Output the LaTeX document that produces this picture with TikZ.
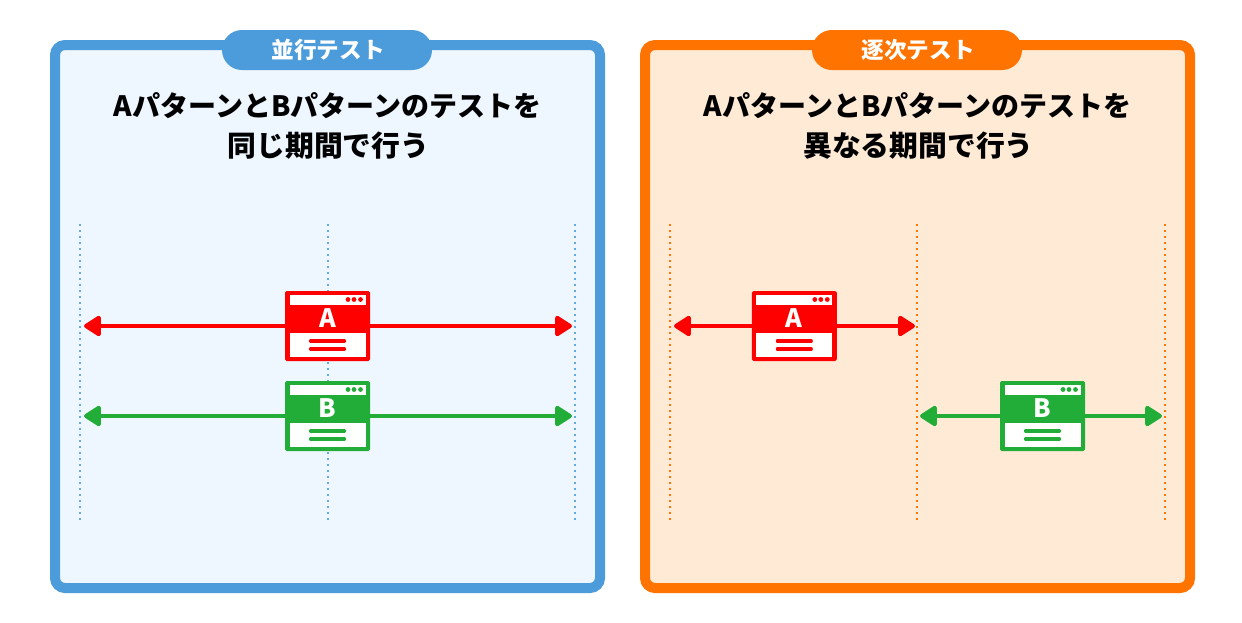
\documentclass[tikz,border=0pt]{standalone}
\usepackage{fontspec}
\setmainfont{Noto Sans CJK JP}
\usetikzlibrary{arrows.meta}
\definecolor{blueB}{HTML}{4C9CDB}
\definecolor{blueD}{HTML}{62AAE2}
\definecolor{blueF}{HTML}{EEF6FF}
\definecolor{orangeB}{HTML}{FF7300}
\definecolor{orangeF}{HTML}{FFEAD6}
\definecolor{redC}{HTML}{FF0000}
\definecolor{greenC}{HTML}{22AC38}
\newcommand{\bigline}{\fontsize{21.6}{30}\selectfont}
\tikzset{
  panel/.style={line width=7.5pt,rounded corners=7.5pt},
  tabbox/.style={minimum width=157.5pt,minimum height=30pt,rounded corners=15pt,inner sep=0pt,text=white,font=\fontsize{17}{20}\selectfont\bfseries},
  titletext/.style={align=center,inner sep=0pt,text=black,font=\fontsize{21}{30}\selectfont\bfseries},
  guide/.style={line width=1.5pt,dash pattern=on 1.5pt off 3pt},
  winbox/.style={minimum width=62.75pt,minimum height=51.5pt,inner sep=0pt,rounded corners=1pt,line width=1pt},
  halfline/.style={line width=3pt,-{Triangle[round,length=14pt,width=17pt,line width=3pt]}}
}
\newcommand{\winicon}[5]{%
  \begin{scope}[shift={(#2,#3)}]
    \node[winbox,fill=#4,draw=#4] (#1) at (0,0) {};
    \node[text=white,inner sep=0pt,font=\fontsize{19}{20}\selectfont\bfseries] (#1t) at (0,-7.5) {#5};
    \fill[white] (-38,-31) rectangle (38,-21.5);
    \fill[#4] (20.5,-26.5) circle (2.4) (26.5,-26.5) circle (2.4) (33,-26.5) circle (2.4);
    \fill[white] (-38,7) rectangle (38,30.5);
    \draw[#4,line width=2.3pt,line cap=round] (-17,15) -- (17,15) (-17,23) -- (17,23);
  \end{scope}}
\begin{document}
\begin{tikzpicture}[x=0.75pt,y=-0.75pt]
\useasboundingbox (0,0) rectangle (1242,622);
\fill[white] (0,0) rectangle (1242,622);
% left panel
\draw[panel,draw=blueB,fill=blueF] (55,45) rectangle (600,588);
\node[tabbox,fill=blueB] (tabL) at (327,50) {\hspace{1.5pt}並行テスト};
\node[titletext] (titleL) at (327.5,126) {Aパターンと\hspace{0pt}Bパターンのテストを\\{\bigline\hspace{1.5pt}同じ期間で行う}};
\coordinate (l1t) at (80,224); \coordinate (l1b) at (80,520);
\coordinate (l2t) at (328,224); \coordinate (l2b) at (328,520);
\coordinate (l3t) at (575,224); \coordinate (l3b) at (575,520);
\draw[guide,draw=blueD] (l1t) -- (l1b);
\draw[guide,draw=blueD] (l2t) -- (l2b);
\draw[guide,draw=blueD] (l3t) -- (l3b);
\coordinate (la1) at (84,326); \coordinate (la2) at (572,326);
\coordinate (lb1) at (84,416); \coordinate (lb2) at (572,416);
\winicon{wa}{327.5}{326}{redC}{A}
\winicon{wb}{327.5}{416}{greenC}{B}
\draw[halfline,color=redC] (wa.west) -- (la1);
\draw[halfline,color=redC] (wa.east) -- (la2);
\draw[halfline,color=greenC] (wb.west) -- (lb1);
\draw[halfline,color=greenC] (wb.east) -- (lb2);
% right panel
\draw[panel,draw=orangeB,fill=orangeF] (645,45) rectangle (1190,588);
\node[tabbox,fill=orangeB] (tabR) at (917,50) {\hspace{1.5pt}逐次テスト};
\node[titletext] (titleR) at (917.5,126) {Aパターンと\hspace{0pt}Bパターンのテストを\\{\bigline\hspace{1.5pt}異なる期間で行う}};
\coordinate (r1t) at (670,224); \coordinate (r1b) at (670,520);
\coordinate (r2t) at (917,224); \coordinate (r2b) at (917,520);
\coordinate (r3t) at (1165,224); \coordinate (r3b) at (1165,520);
\draw[guide,draw=orangeB] (r1t) -- (r1b);
\draw[guide,draw=orangeB] (r2t) -- (r2b);
\draw[guide,draw=orangeB] (r3t) -- (r3b);
\coordinate (ra1) at (674,326); \coordinate (ra2) at (915,326);
\coordinate (rb1) at (920,416); \coordinate (rb2) at (1162,416);
\winicon{ra}{794.3}{326}{redC}{A}
\winicon{rb}{1042.5}{416}{greenC}{B}
\draw[halfline,color=redC] (ra.west) -- (ra1);
\draw[halfline,color=redC] (ra.east) -- (ra2);
\draw[halfline,color=greenC] (rb.west) -- (rb1);
\draw[halfline,color=greenC] (rb.east) -- (rb2);
\end{tikzpicture}
\end{document}
